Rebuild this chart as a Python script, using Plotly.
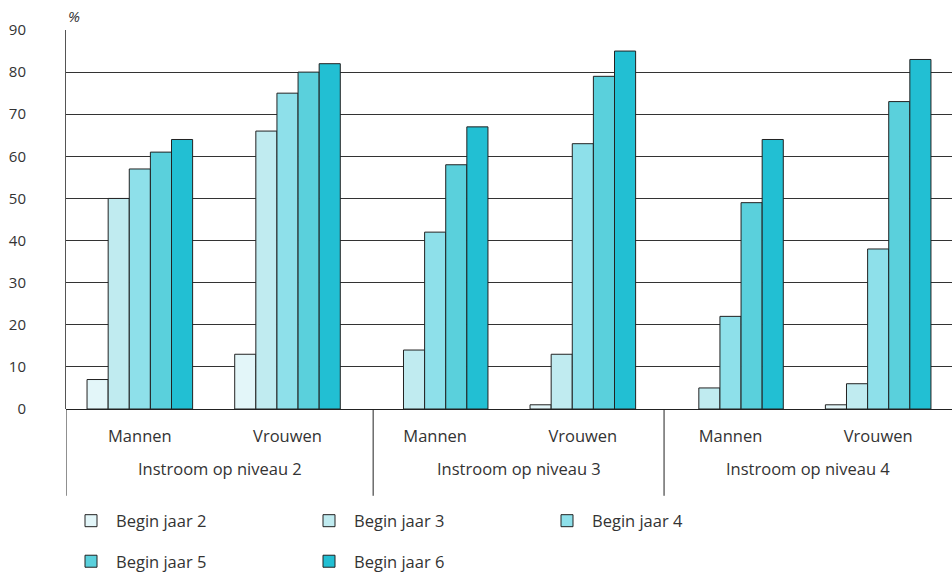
import plotly.graph_objects as go

niveaus = ["Instroom op niveau 2", "Instroom op niveau 3", "Instroom op niveau 4"]
geslacht = ["Mannen", "Vrouwen", "Mannen", "Vrouwen", "Mannen", "Vrouwen"]

series_names = ["Begin jaar 2", "Begin jaar 3", "Begin jaar 4", "Begin jaar 5", "Begin jaar 6"]
jaar2 = [7, 13, None, 1, None, 1]
jaar3 = [50, 66, 14, 13, 5, 6]
jaar4 = [57, 75, 42, 63, 22, 38]
jaar5 = [61, 80, 58, 79, 49, 73]
jaar6 = [64, 82, 67, 85, 64, 83]
series_values = [jaar2, jaar3, jaar4, jaar5, jaar6]
colors = ["#e3f6f9", "#c0ebf0", "#8ee0ea", "#5ad0dc", "#22bfd3"]
legend_ids = ["legend", "legend", "legend", "legend2", "legend2"]

y_ticks = [0, 10, 20, 30, 40, 50, 60, 70, 80, 90]

FONT = "Open Sans"
TXT = "#333333"
LBL = 16.5

x_pos = list(range(len(geslacht)))
# group boundaries (in category units) as drawn in the reference
dividers = [-0.5, 1.58, 3.55, 5.5]

fig = go.Figure()
for name, vals, col, lg in zip(series_names, series_values, colors, legend_ids):
    fig.add_trace(go.Bar(
        x=x_pos, y=vals, name=name,
        marker=dict(color=col, line=dict(color="#222222", width=1)),
        legend=lg,
    ))

shapes = []
for d in dividers[:-1]:
    shapes.append(dict(type="line", xref="x", yref="paper", x0=d, x1=d,
                       y0=0, y1=-0.229, line=dict(color="#222222", width=1)))

annotations = []
for i, lab in enumerate(niveaus):
    annotations.append(dict(
        text=lab, xref="x", yref="paper",
        x=(dividers[i] + dividers[i + 1]) / 2, y=-0.158,
        xanchor="center", yanchor="middle", showarrow=False,
        font=dict(family=FONT, size=LBL, color=TXT),
    ))
annotations.append(dict(
    text="<i>%</i>", xref="paper", yref="paper", x=0, y=1, xanchor="left",
    yanchor="bottom", yshift=2, showarrow=False,
    font=dict(family=FONT, size=15, color=TXT),
))

leg_common = dict(
    orientation="h", x=0, xanchor="left", yanchor="middle",
    entrywidth=183, entrywidthmode="pixels", itemwidth=40,
    font=dict(family=FONT, size=LBL, color=TXT), traceorder="normal",
)

fig.update_layout(
    width=952, height=579,
    margin=dict(l=66, r=0, t=30, b=169),
    paper_bgcolor="white", plot_bgcolor="white",
    barmode="group", bargap=0.285, bargroupgap=0,
    font=dict(family=FONT, size=15, color=TXT),
    xaxis=dict(
        range=[-0.5, 5.5], tickvals=x_pos, ticktext=geslacht,
        showgrid=False, showline=False, zeroline=False,
        ticks="", ticklabelstandoff=15,
        tickfont=dict(family=FONT, size=LBL, color=TXT),
    ),
    yaxis=dict(
        range=[0, 90], tickvals=y_ticks,
        showgrid=True, gridcolor="#333333", gridwidth=1,
        showline=True, linecolor="#555555", linewidth=1,
        zeroline=True, zerolinecolor="#222222", zerolinewidth=1,
        ticks="", ticklabelstandoff=36,
        tickfont=dict(family=FONT, size=15, color=TXT),
    ),
    legend=dict(leg_common, y=-0.292),
    legend2=dict(leg_common, y=-0.403),
    shapes=shapes,
    annotations=annotations,
)

fig.write_html("out.html", config={"displayModeBar": False},
               post_script="document.body.style.margin='0';")
